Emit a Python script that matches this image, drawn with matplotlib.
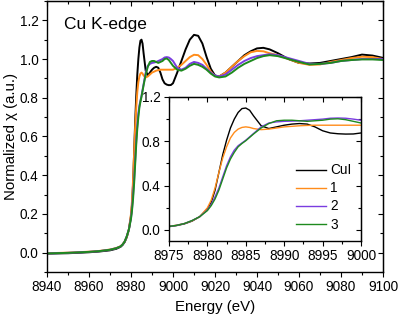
import numpy as np
import matplotlib
matplotlib.use("Agg")
import matplotlib.pyplot as plt
from matplotlib.ticker import MultipleLocator

plt.rcParams['font.family'] = ['Liberation Sans', 'DejaVu Sans']

# energy grid (eV)
energy = [8940, 8950, 8960, 8965, 8970, 8973, 8975, 8976, 8977, 8978, 8979, 8980,
          8980.5, 8981, 8981.5, 8982, 8982.5, 8983, 8983.5, 8984, 8984.5, 8985,
          8985.5, 8986, 8987, 8988, 8989, 8990, 8991, 8992, 8993, 8994, 8995, 8996,
          8997, 8998, 8999, 9000, 9002, 9004, 9006, 9008, 9010, 9012, 9014, 9016,
          9018, 9020, 9022, 9025, 9028, 9031, 9034, 9037, 9040, 9043, 9046, 9050,
          9055, 9060, 9065, 9070, 9075, 9080, 9085, 9090, 9095, 9100]

cui = [-0.005, -0.003, 0.002, 0.006, 0.012, 0.02, 0.03, 0.04, 0.055, 0.08, 0.12, 0.19,
       0.25, 0.36, 0.52, 0.68, 0.81, 0.92, 1.00, 1.06, 1.095, 1.10,
       1.08, 1.03, 0.94, 0.915, 0.93, 0.945, 0.955, 0.96, 0.955, 0.93, 0.895, 0.875,
       0.868, 0.865, 0.866, 0.875, 0.93, 0.99, 1.05, 1.10, 1.125, 1.12, 1.08, 1.01,
       0.95, 0.915, 0.91, 0.93, 0.96, 0.99, 1.02, 1.04, 1.055, 1.058, 1.05, 1.03,
       1.00, 0.98, 0.977, 0.98, 0.99, 1.0, 1.01, 1.023, 1.018, 1.006]

s1 = [-0.003, 0.0, 0.005, 0.009, 0.016, 0.024, 0.033, 0.043, 0.058, 0.082, 0.12, 0.2,
      0.27, 0.38, 0.52, 0.65, 0.75, 0.83, 0.88, 0.91, 0.925, 0.93,
      0.925, 0.915, 0.905, 0.91, 0.92, 0.93, 0.935, 0.94, 0.943, 0.945, 0.945, 0.945,
      0.945, 0.945, 0.945, 0.945, 0.955, 0.97, 0.99, 1.01, 1.022, 1.02, 1.0, 0.97,
      0.935, 0.912, 0.91, 0.93, 0.96, 0.99, 1.015, 1.035, 1.042, 1.04, 1.03, 1.02,
      1.0, 0.98, 0.97, 0.972, 0.985, 0.995, 1.005, 1.012, 1.01, 1.0]

s2 = [-0.004, -0.001, 0.004, 0.008, 0.015, 0.023, 0.032, 0.042, 0.058, 0.085, 0.12, 0.18,
      0.23, 0.30, 0.38, 0.48, 0.58, 0.66, 0.72, 0.76, 0.785, 0.81,
      0.84, 0.87, 0.93, 0.965, 0.975, 0.98, 0.982, 0.985, 0.99, 0.995, 1.0, 1.008,
      1.01, 1.008, 1.0, 0.99, 0.955, 0.945, 0.955, 0.975, 0.985, 0.98, 0.97, 0.95,
      0.93, 0.915, 0.91, 0.92, 0.945, 0.97, 0.99, 1.005, 1.015, 1.02, 1.025, 1.02,
      1.005, 0.99, 0.975, 0.975, 0.98, 0.99, 0.995, 1.0, 1.0, 1.0]

s3 = [-0.004, -0.001, 0.004, 0.008, 0.015, 0.023, 0.032, 0.042, 0.058, 0.085, 0.12, 0.175,
      0.22, 0.28, 0.36, 0.46, 0.56, 0.64, 0.70, 0.75, 0.78, 0.805,
      0.835, 0.865, 0.92, 0.96, 0.985, 0.99, 0.99, 0.985, 0.98, 0.985, 0.99, 1.0,
      1.003, 0.995, 0.98, 0.965, 0.945, 0.94, 0.95, 0.965, 0.975, 0.97, 0.96, 0.945,
      0.925, 0.91, 0.905, 0.91, 0.93, 0.955, 0.975, 0.99, 1.005, 1.015, 1.02, 1.015,
      1.0, 0.985, 0.972, 0.975, 0.98, 0.99, 0.995, 0.998, 0.998, 0.995]

labels = ['CuI', '1', '2', '3']
colors = ['#000000', '#FF8C1A', '#7A3CE0', '#1E8A1E']
series = [cui, s1, s2, s3]


def style_axes(ax, xmaj, xmin, ymaj, ymin, size):
    ax.xaxis.set_major_locator(MultipleLocator(xmaj))
    ax.xaxis.set_minor_locator(MultipleLocator(xmin))
    ax.yaxis.set_major_locator(MultipleLocator(ymaj))
    ax.yaxis.set_minor_locator(MultipleLocator(ymin))
    ax.tick_params(which='both', direction='out', labelsize=size, width=0.8, pad=2.5)
    ax.tick_params(which='major', length=3.5)
    ax.tick_params(which='minor', length=2)
    # mirrored ticks on top / right point inward
    top = ax.secondary_xaxis('top')
    top.xaxis.set_major_locator(MultipleLocator(xmaj))
    top.xaxis.set_minor_locator(MultipleLocator(xmin))
    top.tick_params(which='both', direction='in', labeltop=False, width=0.8)
    top.tick_params(which='major', length=3.5)
    top.tick_params(which='minor', length=2)
    right = ax.secondary_yaxis('right')
    right.yaxis.set_major_locator(MultipleLocator(ymaj))
    right.yaxis.set_minor_locator(MultipleLocator(ymin))
    right.tick_params(which='both', direction='in', labelright=False, width=0.8)
    right.tick_params(which='major', length=3.5)
    right.tick_params(which='minor', length=2)
    for sp in ax.spines.values():
        sp.set_linewidth(1.0)


fig = plt.figure(figsize=(4.0, 3.21), dpi=100)
ax = fig.add_axes([0.1175, 0.1526, 0.84, 0.8444])
for y, c in zip(series, colors):
    ax.plot(energy, y, color=c, lw=1.4)
ax.set_xlim(8940, 9100)
ax.set_ylim(-0.1, 1.3)
style_axes(ax, 20, 10, 0.2, 0.1, 9.8)
ax.set_xlabel('Energy (eV)', fontsize=10.8, labelpad=4)
ax.set_ylabel('Normalized \u03c7 (a.u.)', fontsize=10.8, labelpad=1)
ax.text(0.05, 0.94, 'Cu K-edge', transform=ax.transAxes, fontsize=12.5, va='top')

ins = fig.add_axes([0.4225, 0.249, 0.48, 0.449])
for y, c, lab in zip(series, colors, labels):
    ins.plot(energy, y, color=c, lw=1.0, label=lab)
ins.set_xlim(8975, 9000)
ins.set_ylim(-0.1, 1.2)
style_axes(ins, 5, 2.5, 0.4, 0.2, 9.8)
ins.legend(loc='lower right', frameon=False, fontsize=9.8, handlelength=2.2,
           labelspacing=0.3, handletextpad=0.3, borderaxespad=0.3)

fig.savefig('out.png', dpi=100)
